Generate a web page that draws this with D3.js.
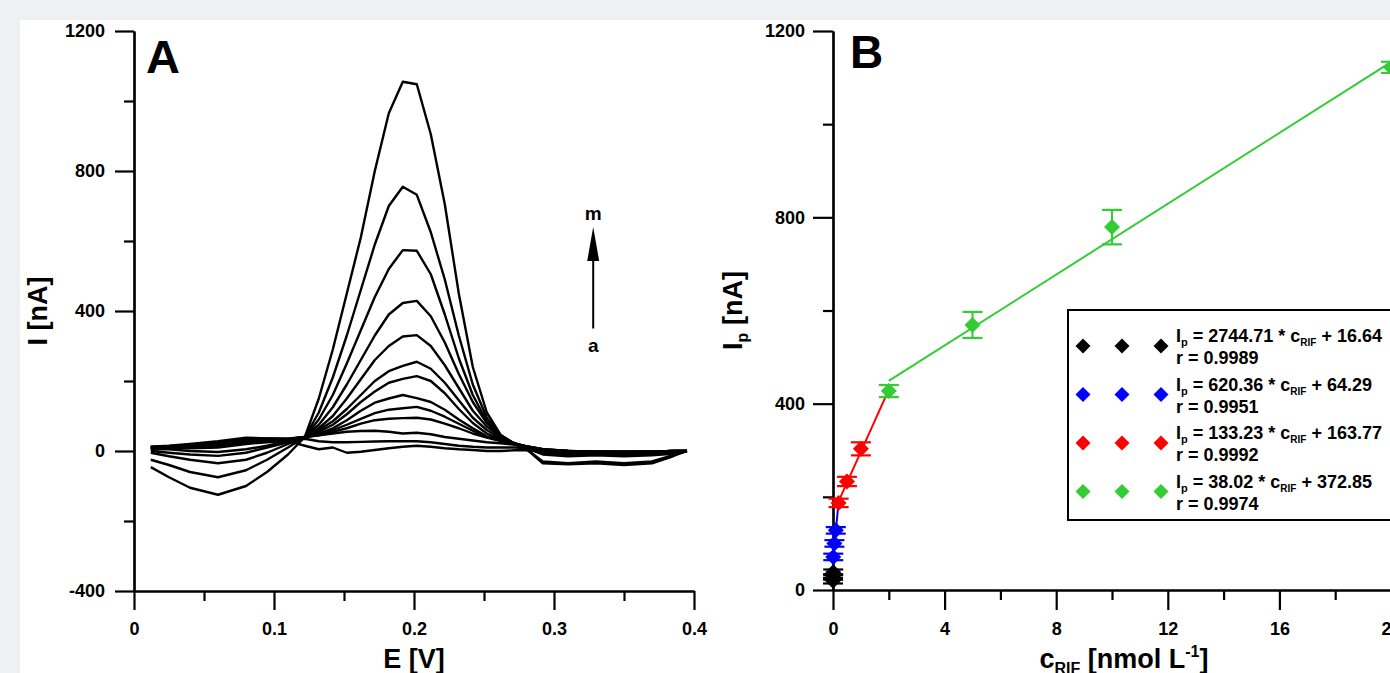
<!DOCTYPE html>
<html>
<head>
<meta charset="utf-8">
<script src="https://cdn.jsdelivr.net/npm/d3@7"></script>
<style>
body { margin: 0; background: #eef0f2; }
svg { display: block; font-family: "Liberation Sans", Arial, sans-serif; font-weight: bold; }
</style>
</head>
<body>
<svg id="chart" width="1390" height="673"></svg>
<script>
// ---- panel A: voltammograms a..m ----
var potential = [0.012, 0.025, 0.04, 0.06, 0.08, 0.095, 0.11, 0.122, 0.132, 0.142, 0.152, 0.162, 0.172, 0.182, 0.192, 0.202, 0.212, 0.222, 0.232, 0.242, 0.252, 0.262, 0.272, 0.282, 0.292, 0.31, 0.33, 0.35, 0.37, 0.385, 0.395]
var curve_a = [5, 8, 12, 20, 30, 30, 28, 15, 5, 10, -5, -2, 3, 8, 12, 15, 12, 8, 5, 3, 0, 0, 2, 3, 2, 0, -2, -3, -2, 0, 0]
var curve_b = [8, 10, 15, 22, 32, 33, 33, 35, 28, 25, 25, 26, 27, 28, 28, 28, 25, 20, 15, 12, 10, 10, 10, 8, 3, 0, -2, -3, -2, 0, 0]
var curve_c = [10, 12, 18, 25, 35, 35, 35, 40, 45, 50, 55, 57, 58, 55, 50, 52, 48, 40, 35, 30, 25, 22, 18, 12, 5, 0, -2, -3, -2, 0, 0]
var curve_d = [12, 15, 20, 28, 38, 36, 35, 40, 45, 55, 65, 78, 88, 92, 94, 95, 90, 78, 65, 50, 38, 28, 20, 12, 5, 0, -2, -2, -2, 0, 0]
var curve_e = [12, 14, 18, 25, 35, 35, 34, 40, 48, 60, 75, 92, 108, 118, 122, 126, 115, 98, 78, 58, 40, 30, 22, 12, 5, 0, -2, -2, -2, 0, 0]
var curve_f = [10, 12, 15, 20, 30, 32, 32, 40, 50, 65, 88, 115, 138, 150, 160, 151, 140, 118, 90, 65, 42, 30, 22, 10, 2, -3, -2, -3, -2, 0, 0]
var curve_g = [10, 12, 12, 15, 25, 28, 30, 40, 55, 75, 105, 140, 170, 195, 206, 214, 200, 165, 120, 80, 50, 32, 22, 10, 0, -5, -3, -5, -3, -2, 0]
var curve_h = [10, 10, 8, 10, 20, 25, 30, 40, 60, 85, 120, 160, 200, 228, 243, 255, 235, 195, 145, 95, 60, 35, 22, 10, 0, -5, -5, -6, -5, -3, 0]
var curve_i = [5, 5, 0, -3, 5, 15, 28, 40, 65, 100, 150, 205, 260, 300, 327, 331, 300, 245, 180, 115, 70, 40, 22, 8, 0, -8, -5, -8, -5, -3, 0]
var curve_j = [0, -5, -10, -14, -5, 10, 25, 40, 75, 125, 190, 260, 330, 390, 423, 429, 385, 310, 220, 140, 80, 40, 20, 5, -5, -10, -8, -10, -8, -5, 0]
var curve_k = [-5, -15, -25, -35, -25, -5, 20, 40, 90, 160, 250, 345, 440, 520, 574, 572, 505, 390, 265, 160, 85, 45, 20, 5, -10, -15, -12, -15, -12, -8, 0]
var curve_l = [-25, -40, -60, -75, -55, -25, 10, 40, 110, 210, 330, 460, 590, 700, 755, 732, 625, 490, 330, 190, 95, 45, 20, 0, -30, -35, -30, -35, -30, -12, 0]
var curve_m = [-46, -75, -105, -125, -100, -60, -10, 40, 150, 290, 450, 610, 800, 965, 1055, 1048, 905, 705, 450, 240, 110, 45, 20, 0, -35, -38, -35, -40, -35, -15, 0]
var ticksA_x = [0, 0.1, 0.2, 0.3, 0.4]
var minorA_x = [0.05, 0.15, 0.25, 0.35]
var ticksA_y = [-400, 0, 400, 800, 1200]
var minorA_y = [-200, 200, 600, 1000]

// ---- panel B: calibration ----
var series_names = ['black', 'blue', 'red', 'green']
var series_colors = ['#000000', '#0000ff', '#ff0000', '#33cc33']
var conc_black = [0.001, 0.004, 0.008]
var ip_black = [20, 28, 38]
var err_black = [6, 6, 6]
var conc_blue = [0.01, 0.05, 0.1]
var ip_blue = [71, 100, 128]
var err_blue = [7, 7, 7]
var conc_red = [0.2, 0.5, 1]
var ip_red = [187, 233, 303]
var err_red = [9, 10, 14]
var conc_green = [2, 5, 10, 20]
var ip_green = [427, 569, 779, 1122]
var err_green = [13, 28, 37, 12]
var slopes = [2744.71, 620.36, 133.23, 38.02]
var intercepts = [16.64, 64.29, 163.77, 372.85]
var r_values = ['0.9989', '0.9951', '0.9992', '0.9974']
var fit_ranges = [[0.001, 0.01], [0.01, 0.2], [0.2, 2], [2, 20]]
var ticksB_x = [0, 4, 8, 12, 16, 20]
var minorB_x = [2, 6, 10, 14, 18]
var ticksB_y = [0, 400, 800, 1200]
var minorB_y = [200, 600, 1000]

var svg = d3.select('#chart')
svg.append('rect').attr('x', 20).attr('y', 20).attr('width', 1370).attr('height', 653).attr('fill', '#ffffff')

function styleAxis(g){
    g.attr('font-family', null).attr('font-size', null)
    g.selectAll('.domain').attr('stroke', '#000').attr('stroke-width', 2.2)
    g.selectAll('.tick line').attr('stroke', '#000').attr('stroke-width', 2.2)
    g.selectAll('.tick text').attr('fill', '#000').style('font-size', '18px').style('font-weight', 'bold')
}
function drawAxis(axisFn, scale, major, minor, len, pad, fmt, translate){
    var gm = svg.append('g').attr('transform', translate)
        .call(axisFn(scale).tickValues(minor).tickSize(10).tickSizeOuter(0).tickFormat(''))
    styleAxis(gm)
    var g = svg.append('g').attr('transform', translate)
        .call(axisFn(scale).tickValues(major).tickSize(len).tickSizeOuter(0).tickPadding(pad).tickFormat(fmt))
    styleAxis(g)
    return g
}

// ===== Panel A =====
var xA = d3.scaleLinear().domain([0, 0.4]).range([134, 694])
var yA = d3.scaleLinear().domain([-400, 1200]).range([591, 31])

drawAxis(d3.axisBottom, xA, ticksA_x, minorA_x, 19, 12, function(d){ return d === 0 ? '0' : d3.format('.1f')(d) }, 'translate(0,' + yA(-400) + ')')
drawAxis(d3.axisLeft, yA, ticksA_y, minorA_y, 19, 10, function(d){ return String(d) }, 'translate(' + xA(0) + ',0)')

var curves = [curve_a, curve_b, curve_c, curve_d, curve_e, curve_f, curve_g, curve_h, curve_i, curve_j, curve_k, curve_l, curve_m]
var lineA = d3.line().x(function(d, i){ return xA(potential[i]) }).y(function(d){ return yA(d) })
svg.append('g').selectAll('path').data(curves).enter().append('path')
    .attr('d', lineA).attr('fill', 'none').attr('stroke', '#000').attr('stroke-width', 2.4).attr('stroke-linejoin', 'round')

// arrow a -> m
var ax = xA(0.328)
svg.append('line').attr('x1', ax).attr('x2', ax).attr('y1', yA(350)).attr('y2', yA(560)).attr('stroke', '#000').attr('stroke-width', 2)
var tip = yA(640)
svg.append('path').attr('d', 'M' + ax + ',' + tip + 'L' + (ax - 6) + ',' + (tip + 34) + 'L' + (ax + 6) + ',' + (tip + 34) + 'Z').attr('fill', '#000')
svg.append('text').attr('x', ax).attr('y', yA(660)).attr('text-anchor', 'middle').style('font-size', '19px').text('m')
svg.append('text').attr('x', ax).attr('y', yA(282)).attr('text-anchor', 'middle').style('font-size', '19px').text('a')

svg.append('text').attr('x', 146).attr('y', 73).style('font-size', '47px').text('A')
svg.append('text').attr('transform', 'translate(47,' + yA(400) + ') rotate(-90)').attr('text-anchor', 'middle').style('font-size', '27px').text('I [nA]')
svg.append('text').attr('x', xA(0.2)).attr('y', 668).attr('text-anchor', 'middle').style('font-size', '27px').text('E [V]')

// ===== Panel B =====
var xB = d3.scaleLinear().domain([0, 20]).range([833, 1391])
var yB = d3.scaleLinear().domain([0, 1200]).range([590, 31])

drawAxis(d3.axisBottom, xB, ticksB_x, minorB_x, 20, 12, function(d){ return String(d) }, 'translate(0,' + yB(0) + ')')
drawAxis(d3.axisLeft, yB, ticksB_y, minorB_y, 20, 8, function(d){ return String(d) }, 'translate(' + xB(0) + ',0)')

var conc = [conc_black, conc_blue, conc_red, conc_green]
var ips = [ip_black, ip_blue, ip_red, ip_green]
var errs = [err_black, err_blue, err_red, err_green]

// fit lines
fit_ranges.forEach(function(rg, s){
    svg.append('line').attr('class', 'fit-' + series_names[s])
        .attr('x1', xB(rg[0])).attr('y1', yB(slopes[s] * rg[0] + intercepts[s]))
        .attr('x2', xB(rg[1])).attr('y2', yB(slopes[s] * rg[1] + intercepts[s]))
        .attr('stroke', series_colors[s]).attr('stroke-width', 2)
})

function diamond(h){ return 'M0,' + (-h) + 'L' + h + ',0L0,' + h + 'L' + (-h) + ',0Z' }

conc.forEach(function(cs, s){
    var pts = cs.map(function(c, i){ return {c: c, ip: ips[s][i], e: errs[s][i]} })
    var g = svg.append('g').attr('class', 'pts-' + series_names[s])
    var eb = g.selectAll('g.eb').data(pts).enter().append('g').attr('class', 'eb')
    eb.append('line').attr('x1', function(d){ return xB(d.c) }).attr('x2', function(d){ return xB(d.c) })
        .attr('y1', function(d){ return yB(d.ip - d.e) }).attr('y2', function(d){ return yB(d.ip + d.e) })
        .attr('stroke', series_colors[s]).attr('stroke-width', 2)
    eb.append('line').attr('x1', function(d){ return xB(d.c) - 10 }).attr('x2', function(d){ return xB(d.c) + 10 })
        .attr('y1', function(d){ return yB(d.ip + d.e) }).attr('y2', function(d){ return yB(d.ip + d.e) })
        .attr('stroke', series_colors[s]).attr('stroke-width', 2.2)
    eb.append('line').attr('x1', function(d){ return xB(d.c) - 10 }).attr('x2', function(d){ return xB(d.c) + 10 })
        .attr('y1', function(d){ return yB(d.ip - d.e) }).attr('y2', function(d){ return yB(d.ip - d.e) })
        .attr('stroke', series_colors[s]).attr('stroke-width', 2.2)
    g.selectAll('path').data(pts).enter().append('path')
        .attr('d', diamond(8))
        .attr('transform', function(d){ return 'translate(' + xB(d.c) + ',' + yB(d.ip) + ')' })
        .attr('fill', series_colors[s])
})

svg.append('text').attr('x', 850).attr('y', 68).style('font-size', '46px').text('B')

var ylabB = svg.append('text').attr('transform', 'translate(742,' + yB(600) + ') rotate(-90)').attr('text-anchor', 'middle').style('font-size', '27px')
ylabB.append('tspan').text('I')
ylabB.append('tspan').attr('dy', 6).style('font-size', '16px').text('p')
ylabB.append('tspan').attr('dy', -6).text(' [nA]')

var xlabB = svg.append('text').attr('x', 1124).attr('y', 668).attr('text-anchor', 'middle').style('font-size', '27px')
xlabB.append('tspan').text('c')
xlabB.append('tspan').attr('dy', 6).style('font-size', '16px').text('RIF')
xlabB.append('tspan').attr('dy', -6).text(' [nmol L')
xlabB.append('tspan').attr('dy', -11).style('font-size', '16px').text('-1')
xlabB.append('tspan').attr('dy', 11).text(']')

// legend
var leg = svg.append('g').attr('transform', 'translate(1068,310)')
leg.append('rect').attr('width', 340).attr('height', 210).attr('fill', '#fff').attr('stroke', '#000').attr('stroke-width', 2)
series_names.forEach(function(n, s){
    var cy = 36 + s * 48.5
    ;[15, 54, 93].forEach(function(dx){
        leg.append('path').attr('d', diamond(7.5)).attr('transform', 'translate(' + dx + ',' + cy + ')').attr('fill', series_colors[s])
    })
    var t = leg.append('text').attr('x', 108).attr('y', cy - 4).style('font-size', '18px')
    t.append('tspan').text('I')
    t.append('tspan').attr('dy', 4).style('font-size', '11px').text('p')
    t.append('tspan').attr('dy', -4).text(' = ' + slopes[s].toFixed(2) + ' * c')
    t.append('tspan').attr('dy', 4).style('font-size', '10px').text('RIF')
    t.append('tspan').attr('dy', -4).text(' + ' + intercepts[s].toFixed(2))
    leg.append('text').attr('x', 108).attr('y', cy + 18).style('font-size', '18px').text('r = ' + r_values[s])
})
</script>
</body>
</html>
